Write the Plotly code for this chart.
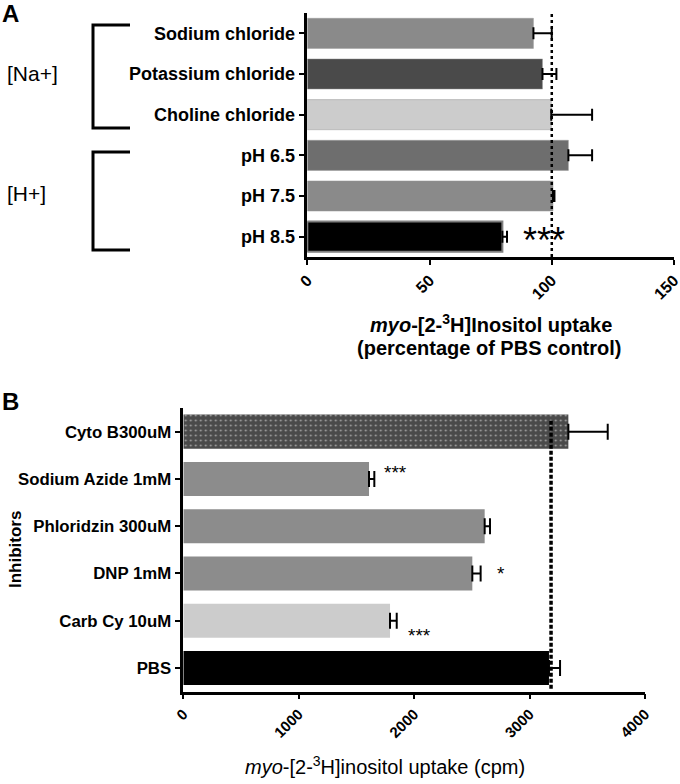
import plotly.graph_objects as go

# Panel A: ion dependence (percentage of PBS control)
a_labels = ["Sodium chloride", "Potassium chloride", "Choline chloride",
            "pH 6.5", "pH 7.5", "pH 8.5"]
a_values = [92.5, 96.2, 99.8, 106.8, 100.5, 79.8]
a_err = [7.5, 5.7, 16.7, 9.7, 0.6, 1.9]
a_colors = ["#8a8a8a", "#4a4a4a", "#cccccc", "#6e6e6e", "#8a8a8a", "#000000"]
a_ticks = [0, 50, 100, 150]
a_ref = 100

# Panel B: inhibitors (cpm)
b_labels = ["Cyto B300uM", "Sodium Azide 1mM", "Phloridzin 300uM",
            "DNP 1mM", "Carb Cy 10uM", "PBS"]
b_values = [3336, 1609, 2611, 2504, 1791, 3168]
b_err = [341, 46, 46, 72, 58, 96]
b_colors = ["#4a4a4a", "#8c8c8c", "#8c8c8c", "#8c8c8c", "#cccccc", "#000000"]
b_ticks = [0, 1000, 2000, 3000, 4000]
b_ref = 3186

FONT = "Liberation Sans, Arial, sans-serif"
W, H = 680, 784


def px(x):
    return x / W


def py(y):
    return 1 - y / H


fig = go.Figure()

fig.add_trace(go.Bar(
    x=a_values, y=a_labels, orientation="h", width=0.74,
    marker=dict(color=a_colors,
                line=dict(color=["#9a9a9a"] * 5 + ["#808080"], width=[0.5] * 5 + [2])),
    error_x=dict(type="data", array=a_err, arrayminus=[0] * 6, color="black",
                 thickness=2, width=6),
    xaxis="x", yaxis="y", showlegend=False,
))

fig.add_trace(go.Bar(
    x=b_values, y=b_labels, orientation="h", width=0.72,
    marker=dict(color=b_colors, line=dict(width=0),
                pattern=dict(shape=["."] + [""] * 5, fgcolor="#9a9a9a",
                             bgcolor="#4a4a4a", size=5, solidity=0.12)),
    error_x=dict(type="data", array=b_err, arrayminus=[0] * 6, color="black",
                 thickness=2, width=8),
    xaxis="x2", yaxis="y2", showlegend=False,
))

# reference lines
fig.add_shape(type="line", x0=a_ref, x1=a_ref, y0=0, y1=1, xref="x", yref="y domain",
              line=dict(color="black", width=2.5, dash="dot"))
fig.add_shape(type="line", x0=b_ref, x1=b_ref, y0=0.01, y1=0.96, xref="x2", yref="y2 domain",
              line=dict(color="black", width=3.5, dash="4px,2px"))


def tf(size):
    return dict(family=FONT, size=size, color="black", weight="bold")


axis_common = dict(showgrid=False, zeroline=False, showline=True, linecolor="black",
                   linewidth=2.5, ticks="outside", tickwidth=2, tickcolor="black",
                   automargin=False, ticklabeloverflow="allow")

fig.update_layout(
    width=W, height=H, autosize=False,
    margin=dict(l=0, r=0, t=0, b=0),
    plot_bgcolor="white", paper_bgcolor="white",
    font=dict(family=FONT, color="black"),
    barmode="overlay",
    xaxis=dict(domain=[px(307.3), px(674)], anchor="y", range=[0, 150],
               tickvals=a_ticks, tickangle=-45, ticklen=5, tickfont=tf(16), **axis_common),
    yaxis=dict(domain=[py(257), py(13)], anchor="x", range=[5.5, -0.5],
               categoryorder="array", categoryarray=a_labels,
               ticklen=6, tickfont=tf(18), **axis_common),
    xaxis2=dict(domain=[px(183.3), px(645)], anchor="y2", range=[0, 4000],
                tickvals=b_ticks, tickangle=-45, ticklen=5, tickfont=tf(15), **axis_common),
    yaxis2=dict(domain=[py(691.7), py(408)], anchor="x2", range=[5.5, -0.5],
                categoryorder="array", categoryarray=b_labels,
                ticklen=6, tickfont=tf(16.8), **axis_common),
)

ann = [
    dict(text="<b>A</b>", x=px(0), y=py(-2), xanchor="left", yanchor="top", font=dict(size=24)),
    dict(text="<b>B</b>", x=px(0), y=py(386), xanchor="left", yanchor="top", font=dict(size=24)),
    dict(text="[Na+]", x=px(5), y=py(73), xanchor="left", yanchor="middle", font=dict(size=21)),
    dict(text="[H+]", x=px(5), y=py(193), xanchor="left", yanchor="middle", font=dict(size=21)),
    dict(text="<b><i>myo</i>-[2-<sup>3</sup>H]Inositol uptake</b>", x=px(491), y=py(323),
         xanchor="center", yanchor="middle", font=dict(size=20)),
    dict(text="<b>(percentage of PBS control)</b>", x=px(489), y=py(348),
         xanchor="center", yanchor="middle", font=dict(size=20)),
    dict(text="<i>myo</i>-[2-<sup>3</sup>H]inositol uptake (cpm)", x=px(385), y=py(765),
         xanchor="center", yanchor="middle", font=dict(size=20)),
    dict(text="<b>Inhibitors</b>", x=px(15), y=py(550), xanchor="center", yanchor="middle",
         textangle=-90, font=dict(size=17)),
]
for a in ann:
    a.update(xref="paper", yref="paper", showarrow=False)
    fig.add_annotation(**a)

# significance marks
fig.add_annotation(text="***", x=97, y="pH 8.5", xref="x", yref="y", showarrow=False,
                   xanchor="center", yshift=-4, font=dict(size=36))
fig.add_annotation(text="***", x=1835, y="Sodium Azide 1mM", xref="x2", yref="y2",
                   showarrow=False, xanchor="center", yshift=6, font=dict(size=19))
fig.add_annotation(text="*", x=2755, y="DNP 1mM", xref="x2", yref="y2",
                   showarrow=False, xanchor="center", yshift=0, font=dict(size=19))
fig.add_annotation(text="***", x=2045, y="Carb Cy 10uM", xref="x2", yref="y2",
                   showarrow=False, xanchor="center", yshift=-15, font=dict(size=19))

# brackets for panel A
for top, bot in [(25, 128), (152, 250)]:
    fig.add_shape(type="path", xref="paper", yref="paper",
                  path=f"M {px(130)},{py(top)} L {px(93)},{py(top)} L {px(93)},{py(bot)} L {px(130)},{py(bot)}",
                  line=dict(color="black", width=3))

fig.write_html("out.html", config={"displayModeBar": False, "responsive": False},
               post_script="document.body.style.margin='0';")
